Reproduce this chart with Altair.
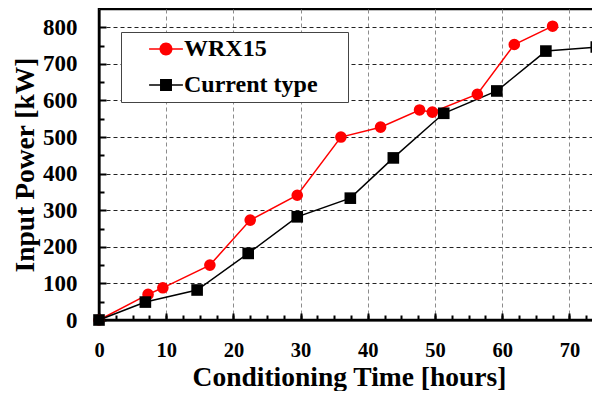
import altair as alt
import pandas as pd

# ---- data ----
series_names = ["WRX15", "Current type"]
wrx_time = [0, 7.3, 9.5, 16.5, 22.5, 29.5, 36.0, 41.9, 47.7, 49.6, 56.3, 61.8, 67.5]
wrx_power = [0, 70, 88, 150, 273, 341, 500, 527, 574, 568, 617, 753, 803]
cur_time = [0, 6.9, 14.6, 22.2, 29.5, 37.4, 43.8, 51.3, 59.2, 66.5, 74.0]
cur_power = [0, 49, 82, 182, 282, 333, 443, 565, 626, 735, 746]

x_major = [0, 10, 20, 30, 40, 50, 60, 70]
x_minor = [i * 2.5 for i in range(31)]
y_major = [0, 100, 200, 300, 400, 500, 600, 700, 800]
y_minor = [50 + 100 * i for i in range(8)]

df = pd.concat([
    pd.DataFrame({"t": wrx_time, "p": wrx_power, "s": series_names[0]}),
    pd.DataFrame({"t": cur_time, "p": cur_power, "s": series_names[1]}),
], ignore_index=True)

F = "Liberation Serif"
colors = ["#ff0000", "#000000"]

xs = alt.Scale(domain=[0, 75], nice=False, zero=False)
ys = alt.Scale(domain=[0, 850], nice=False, zero=False)

circ_path = ("M-1,0A1,1,0,1,1,1,0A1,1,0,1,1,-1,0Z "
             "M-2.6,-0.12H-0.9V0.12H-2.6Z M0.9,-0.12H2.6V0.12H0.9Z")
sq_path = ("M-0.92,-0.92H0.92V0.92H-0.92Z "
           "M-2.6,-0.12H-0.9V0.12H-2.6Z M0.9,-0.12H2.6V0.12H0.9Z")

base = alt.Chart(df)

lines = base.mark_line(strokeWidth=1.5).encode(
    x=alt.X("t:Q", scale=xs, axis=alt.Axis(
        orient="bottom", values=x_major, format="d", grid=True, gridDash=[4, 3],
        gridColor="#8c8c8c", gridWidth=1, ticks=False, tickSize=0,
        domain=True, domainColor="black", domainWidth=2,
        labelFont=F, labelFontSize=20.5, labelFontWeight="bold", labelColor="black",
        labelPadding=36, labelBaseline="alphabetic", labelFlush=False,
        title="Conditioning Time [hours]", titleFont=F, titleFontSize=27.5,
        titleFontWeight="bold", titleColor="black", titleBaseline="alphabetic",
        titleY=65, titleX=250)),
    y=alt.Y("p:Q", scale=ys, axis=alt.Axis(
        orient="left", values=y_major, format="d", grid=True, gridDash=[4, 3],
        gridColor="#222222", gridWidth=1, ticks=False, tickSize=0,
        domain=True, domainColor="black", domainWidth=2,
        labelFont=F, labelFontSize=23, labelFontWeight="bold", labelColor="black",
        labelPadding=22,
        title="Input Power [kW]", titleFont=F, titleFontSize=27.5,
        titleFontWeight="bold", titleColor="black", titleBaseline="alphabetic",
        titleAngle=270, titleX=-66)),
    color=alt.Color("s:N", scale=alt.Scale(domain=series_names, range=colors), legend=None),
    order="t:Q",
)

points = base.mark_point(filled=True, opacity=1, size=135).encode(
    x=alt.X("t:Q", scale=xs, axis=alt.Axis(
        orient="bottom", offset=-7, values=x_major, ticks=True, tickSize=7,
        tickWidth=2, tickColor="black", labels=False, domain=False, grid=False, title=None)),
    y=alt.Y("p:Q", scale=ys, axis=alt.Axis(
        orient="left", offset=-7, values=y_major, ticks=True, tickSize=7,
        tickWidth=2, tickColor="black", labels=False, domain=False, grid=False, title=None)),
    color=alt.Color("s:N", scale=alt.Scale(domain=series_names, range=colors), legend=None),
    shape=alt.Shape("s:N", scale=alt.Scale(domain=series_names, range=["circle", "square"]), legend=None),
)

leg_props = dict(
    title="MMMM", titleOrient="right", titlePadding=0, titleFontSize=7.4,
    titleOpacity=0, titleColor="white",
    orient="none", legendX=22, legendY=23, padding=5,
    strokeColor="#444444", fillColor="white", symbolSize=169, symbolOffset=28,
    labelOffset=6, rowPadding=12, labelFont=F, labelFontSize=24,
    labelFontWeight="bold", labelColor="black", labelLimit=300,
    symbolStrokeWidth=0, symbolOpacity=1,
)

legend_layer = base.transform_filter("false").mark_point(filled=True, opacity=1, size=169).encode(
    x=alt.X("t:Q", scale=xs, axis=alt.Axis(
        orient="bottom", offset=-5, values=x_minor, ticks=True, tickSize=5,
        tickWidth=2, tickColor="black", labels=False, domain=False, grid=False, title=None)),
    y=alt.Y("p:Q", scale=ys, axis=alt.Axis(
        orient="left", offset=-5, values=y_minor, ticks=True, tickSize=5,
        tickWidth=2, tickColor="black", labels=False, domain=False, grid=False, title=None)),
    color=alt.Color("s:N", scale=alt.Scale(domain=series_names, range=colors),
                    legend=alt.Legend(**leg_props)),
    shape=alt.Shape("s:N", scale=alt.Scale(domain=series_names, range=[circ_path, sq_path]),
                    legend=alt.Legend(**leg_props)),
)

chart = alt.layer(lines, points, legend_layer).resolve_scale(
    color="independent", shape="independent"
).resolve_axis(
    x="independent", y="independent"
).properties(
    width=504, height=311,
    padding={"left": 91, "top": 1, "right": -11, "bottom": 71},
    autosize=alt.AutoSizeParams(type="none"),
    background="white",
).configure_view(stroke="black", strokeWidth=2.5)

chart.save("out.html", embed_options={"renderer": "svg", "actions": False})
